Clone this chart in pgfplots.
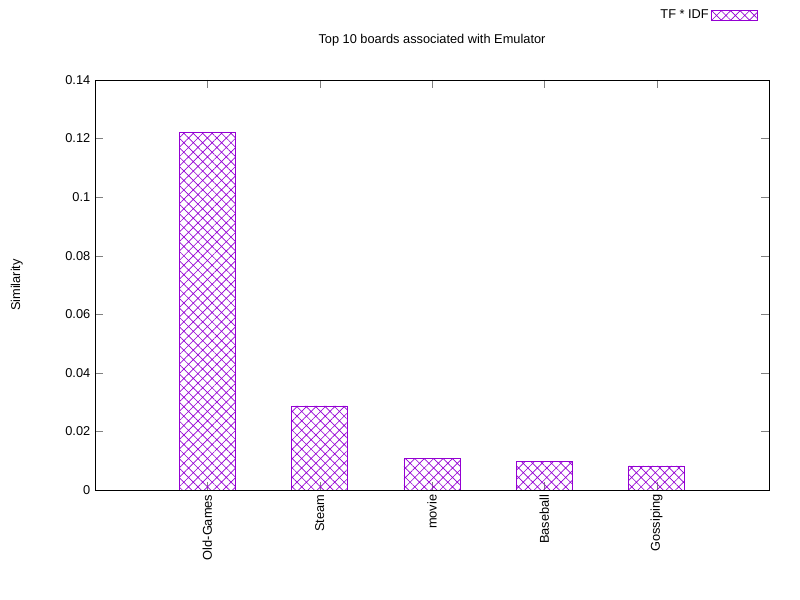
\documentclass[border=0pt]{standalone}
\usepackage{pgfplots}
\pgfplotsset{compat=1.18}
\usepackage{fontspec}
\setmainfont{Liberation Sans}
\usetikzlibrary{patterns,patterns.meta}
\definecolor{gp}{HTML}{9400D3}
\begin{document}
\begin{tikzpicture}[x=1pt,y=1pt]
\path (0,0) rectangle (600,450);
\begin{axis}[at={(71.25pt,82.5pt)},anchor=south west,
 scale only axis, width=505.5pt, height=307.5pt,
 xmin=0,xmax=6,ymin=0,ymax=0.14,
 xtick={1,2,3,4,5}, xticklabels={Old-Games,Steam,movie,Baseball,Gossiping},
 xticklabel style={rotate=90,anchor=east},
 ytick={0,0.02,0.04,0.06,0.08,0.1,0.12,0.14},
 yticklabel style={/pgf/number format/fixed},
 /pgf/number format/assume math mode=true,
 tick align=inside, tick pos=both, major tick length=6pt,
 font=\fontsize{9.6}{11}\selectfont,
 ylabel={Similarity}, ylabel style={at={(axis description cs:-0.1,0.5)}},
 title={Top 10 boards associated with Emulator},
 title style={at={(axis description cs:0.5,1.078)},anchor=center},
 legend style={at={(axis description cs:0.989,1.158)},anchor=east,draw=none,
   legend plot pos=right, font=\fontsize{9.6}{11}\selectfont},
 legend image code/.code={\draw[gp,pattern={Hatch[angle=45,distance=5pt,line width=0.5pt]},pattern color=gp] (10pt,-3.5pt) rectangle (44pt,3.5pt);},
 ]
\addplot[ybar, bar width=0.5, draw=gp, pattern={Hatch[angle=45,distance=5pt,line width=0.5pt]}, pattern color=gp]
 coordinates {(1,0.1222) (2,0.0287) (3,0.0108) (4,0.0098) (5,0.0082)};
\addlegendentry{TF * IDF}
\end{axis}
\end{tikzpicture}
\end{document}
